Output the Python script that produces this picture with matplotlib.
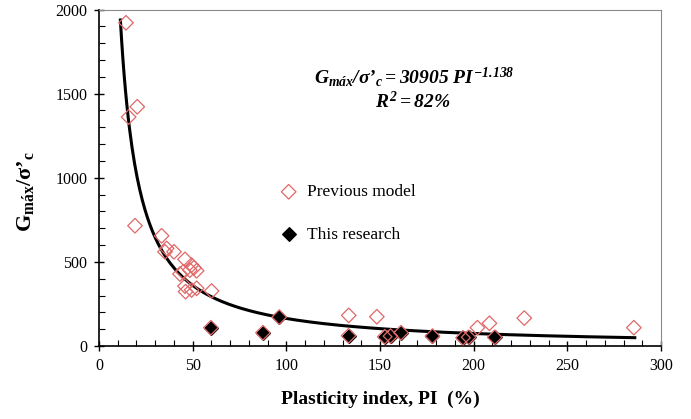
import numpy as np
import matplotlib
matplotlib.use("Agg")
from matplotlib import pyplot as plt
from matplotlib.ticker import MultipleLocator

plt.rcParams['font.family'] = ['Liberation Serif', 'DejaVu Serif']
plt.rcParams['mathtext.fontset'] = 'custom'
plt.rcParams['mathtext.rm'] = 'Liberation Serif:italic:bold'
plt.rcParams['mathtext.it'] = 'Liberation Serif:italic:bold'
plt.rcParams['mathtext.bf'] = 'Liberation Serif:bold'

# previous model (open red diamonds)
prev_pi = [14.4, 20.4, 15.8, 19.2, 33.4, 36.1, 35.2, 40.0, 45.9, 49.4, 50.7, 52.1,
           48.5, 45.0, 43.2, 45.9, 46.2, 49.4, 52.1, 60.1, 133.3, 148.3, 202.0,
           208.4, 227.0, 285.5, 59.7, 87.5, 96.2, 133.2, 152.5, 155.6, 161.2,
           178.0, 194.3, 197.3, 211.2]
prev_g = [1921, 1422, 1361, 715, 655, 580, 560, 560, 515, 481, 465, 447,
          451, 441, 428, 356, 323, 333, 343, 327, 182, 174, 109,
          135, 166, 109, 109, 79, 172, 61, 55, 59, 79,
          59, 49, 52, 52]

# this research (black diamonds)
this_pi = [59.7, 87.5, 96.2, 133.2, 152.5, 155.6, 161.2, 178.0, 194.3, 197.3, 211.2]
this_g = [109, 79, 172, 61, 55, 59, 79, 59, 49, 52, 52]

# power fit G/s'c = 30905 PI^-1.138
fit_a = 30905
fit_b = -1.138
fit_range = (11.4, 286)

red = '#E06868'

fig = plt.figure(figsize=(6.91, 4.19), dpi=100)
ax = fig.add_axes([0.1433, 0.1742, 0.8133, 0.8031])

ax.scatter(this_pi, this_g, marker='D', s=48, color='black', zorder=3,
           label='This research')
ax.scatter(prev_pi, prev_g, marker='D', s=55, facecolors='none', edgecolors=red,
           linewidths=0.9, zorder=4, label='Previous model')

xf = np.linspace(fit_range[0], fit_range[1], 400)
ax.plot(xf, fit_a * xf ** fit_b, color='black', lw=2.2, zorder=2)

ax.set_xlim(0, 300)
ax.set_ylim(0, 2000)
ax.xaxis.set_major_locator(MultipleLocator(50))
ax.xaxis.set_minor_locator(MultipleLocator(10))
ax.yaxis.set_major_locator(MultipleLocator(500))
ax.yaxis.set_minor_locator(MultipleLocator(100))
ax.tick_params(which='major', direction='inout', length=7, width=1, labelsize=11.5, pad=5)
ax.tick_params(which='minor', direction='in', length=4, width=0.8)

for s in ['top', 'right']:
    ax.spines[s].set_color('#8a8a8a')
ax.spines['left'].set_linewidth(1.2)
ax.spines['bottom'].set_linewidth(1.2)

ax.set_xlabel('Plasticity index, PI  (%)', fontsize=14, fontweight='bold', labelpad=12)
ax.set_ylabel(r"$\mathbf{G_{máx}/σ’_c}$", fontsize=16)
ax.yaxis.set_label_coords(-0.112, 0.46)

ax.text(0.561, 0.78, r"$G_{máx}/σ’_c = 30905\ PI^{-1.138}$",
        transform=ax.transAxes, ha='center', va='baseline', fontsize=14)
ax.text(0.558, 0.708, r"$R^2 = 82\%$",
        transform=ax.transAxes, ha='center', va='baseline', fontsize=14)

h, l = ax.get_legend_handles_labels()
ax.legend([h[1], h[0]], [l[1], l[0]], loc='upper left', bbox_to_anchor=(0.322, 0.481),
          frameon=False, fontsize=12.5, handlelength=1, handletextpad=0.55,
          labelspacing=1.5, borderpad=0, borderaxespad=0)

fig.savefig('out.png', dpi=100)
